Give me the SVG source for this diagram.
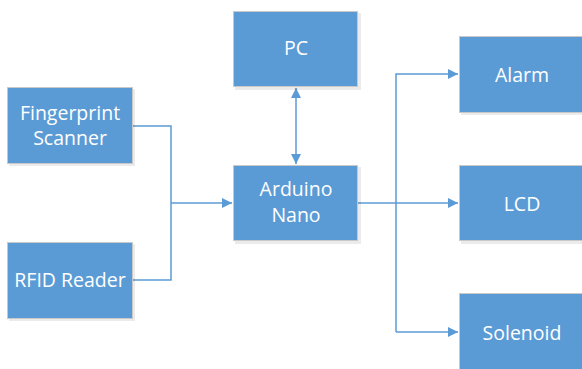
<svg xmlns="http://www.w3.org/2000/svg" width="582" height="369" viewBox="0 0 582 369">
<defs>
<style>
.box{fill:#5B9BD5;stroke:#c9c9c9;stroke-width:1}
.sh{fill:#000;opacity:0.08}
.t{font-family:"Open Sans","Noto Sans",sans-serif;font-size:19.5px;fill:#fff;text-anchor:middle}
.ln{fill:none;stroke:#5B9BD5;stroke-width:1.5}
</style>
<marker id="ah" viewBox="0 0 10 10" refX="10" refY="5" markerWidth="10" markerHeight="10" markerUnits="userSpaceOnUse" orient="auto-start-reverse">
<path d="M0,0 L10,5 L0,10 z" fill="#5B9BD5"/>
</marker>
</defs>
<rect width="582" height="369" fill="#fff"/>
<g id="connectors">
<polyline class="ln" points="133,126 171,126 171,280 133,280"/>
<line class="ln" x1="171" y1="203" x2="232" y2="203" marker-end="url(#ah)"/>
<line class="ln" x1="296" y1="88" x2="296" y2="164" marker-start="url(#ah)" marker-end="url(#ah)"/>
<line class="ln" x1="358" y1="203" x2="458" y2="203" marker-end="url(#ah)"/>
<polyline class="ln" points="396,332 396,74 458,74" marker-end="url(#ah)"/>
<polyline class="ln" points="396,332 458,332" marker-end="url(#ah)"/>
</g>
<g id="fingerprint">
<rect class="sh" x="9" y="89" width="126" height="77"/>
<rect class="box" x="7.5" y="87.5" width="125" height="76"/>
<text class="t" x="70" y="120">Fingerprint</text>
<text class="t" x="70" y="145">Scanner</text>
</g>
<g id="rfid">
<rect class="sh" x="9" y="244" width="126" height="77"/>
<rect class="box" x="7.5" y="242.5" width="125" height="76"/>
<text class="t" x="70" y="287">RFID Reader</text>
</g>
<g id="pc">
<rect class="sh" x="235" y="13" width="126" height="77"/>
<rect class="box" x="233.5" y="11.5" width="124" height="75"/>
<text class="t" x="296" y="55">PC</text>
</g>
<g id="arduino">
<rect class="sh" x="235" y="167" width="126" height="77"/>
<rect class="box" x="233.5" y="165.5" width="124" height="75"/>
<text class="t" x="296" y="196">Arduino</text>
<text class="t" x="296" y="222">Nano</text>
</g>
<g id="alarm">
<rect class="sh" x="461" y="38" width="126" height="77"/>
<rect class="box" x="459.5" y="36.5" width="125" height="76"/>
<text class="t" x="522" y="82">Alarm</text>
</g>
<g id="lcd">
<rect class="sh" x="461" y="167" width="126" height="77"/>
<rect class="box" x="459.5" y="165.5" width="125" height="75"/>
<text class="t" x="522" y="211">LCD</text>
</g>
<g id="solenoid">
<rect class="sh" x="461" y="295" width="126" height="77"/>
<rect class="box" x="459.5" y="293.5" width="125" height="76"/>
<text class="t" x="522" y="340">Solenoid</text>
</g>
</svg>
